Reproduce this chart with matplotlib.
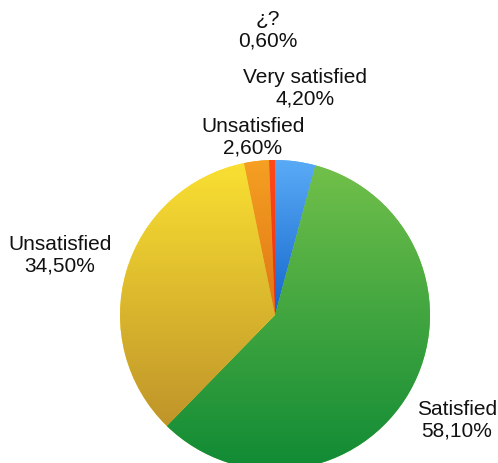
import numpy as np
import matplotlib
matplotlib.use("Agg")
import matplotlib.pyplot as plt
from matplotlib.colors import LinearSegmentedColormap

# data
categories = ["Very satisfied", "Satisfied", "Unsatisfied", "Unsatisfied", "¿?"]
values = [4.2, 58.1, 34.5, 2.6, 0.6]
pct_labels = ["4,20%", "58,10%", "34,50%", "2,60%", "0,60%"]

# gradient colours (top, bottom) for each slice
top_colors = ["#5aabf6", "#72c04a", "#fae032", "#f5a023", "#ff4a18"]
bottom_colors = ["#1466cc", "#0f8a35", "#bf942a", "#e07614", "#e83010"]

# label centres in pixels (x, y from top)
label_pos = [(305, 88), (457, 420), (60, 255), (253, 137), (268, 30)]

W, H = 498, 463
plt.rcParams['font.family'] = ['Liberation Sans', 'DejaVu Sans']
fig = plt.figure(figsize=(W / 100, H / 100), dpi=100)
ax = fig.add_axes([0, 0, 1, 1])

cx, cy, r = 275, H - 315, 155
wedges, _ = ax.pie(values, startangle=90, counterclock=False,
                   center=(cx, cy), radius=r, frame=True,
                   wedgeprops=dict(linewidth=0))

for w, c0, c1 in zip(wedges, top_colors, bottom_colors):
    verts = w.get_path().vertices
    y0, y1 = verts[:, 1].min(), verts[:, 1].max()
    x0, x1 = verts[:, 0].min(), verts[:, 0].max()
    cmap = LinearSegmentedColormap.from_list("g", [c1, c0])
    grad = np.linspace(0, 1, 256).reshape(-1, 1)
    w.set_facecolor(c0)
    im = ax.imshow(grad, cmap=cmap, extent=[x0 - 1, x1 + 1, y0 - 1, y1 + 1],
                   origin='lower', aspect='auto', zorder=2)
    im.set_clip_path(w)

ax.set_xlim(0, W)
ax.set_ylim(0, H)
ax.axis('off')

for cat, pct, (px, py) in zip(categories, pct_labels, label_pos):
    ax.text(px, H - py, cat + "\n" + pct, ha='center', va='center',
            fontsize=15, linespacing=1.15, color='#111111', zorder=5)

# title, mostly above the top edge (only descenders show in the reference)
fig.text(0.5, (H + 6) / H, "(Quality of the library service provided)",
         ha='center', va='baseline', fontsize=15, fontweight='bold',
         color='#5a9e2a')

fig.savefig("out.png", dpi=100)
